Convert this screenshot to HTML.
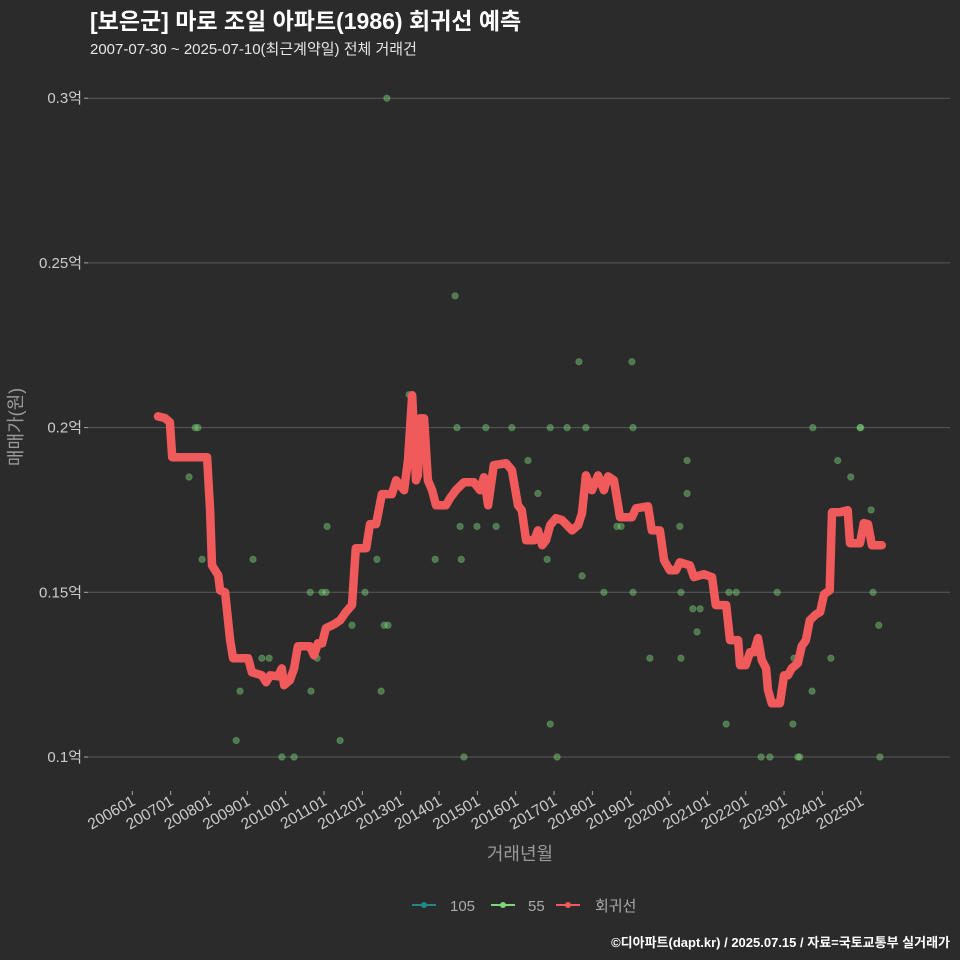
<!DOCTYPE html>
<html><head><meta charset="utf-8"><style>
html,body{margin:0;padding:0;background:#2b2b2c;}
svg{display:block;font-family:"Liberation Sans","Noto Sans CJK KR",sans-serif;}
</style></head><body>
<svg id="chart" width="960" height="960" xmlns="http://www.w3.org/2000/svg">
<rect width="960" height="960" fill="#2b2b2c"/>
<text x="90" y="29" fill="#ffffff" font-size="23" font-weight="bold">[보은군] 마로 조일 아파트(1986) 회귀선 예측</text>
<text x="90" y="54" fill="#e6e6e6" font-size="15">2007-07-30 ~ 2025-07-10(최근계약일) 전체 거래건</text>
<g id="grid"></g>
<g id="points"></g>
<g id="line"></g>
<g id="xaxis"></g>
<text x="520" y="860" fill="#9a9a9a" font-size="18" text-anchor="middle">거래년월</text>
<text transform="translate(22,427) rotate(-90)" fill="#9a9a9a" font-size="18" text-anchor="middle">매매가(원)</text>
<g>
 <g><line x1="412" y1="905" x2="436" y2="905" stroke="#1f8a84" stroke-width="2"/><circle cx="424" cy="905" r="3" fill="#1f8a84"/><text x="450" y="911" fill="#aaaaaa" font-size="15">105</text></g>
 <g><line x1="491" y1="905" x2="515" y2="905" stroke="#7ed67a" stroke-width="2"/><circle cx="503" cy="905" r="3" fill="#7ed67a"/><text x="528" y="911" fill="#aaaaaa" font-size="15">55</text></g>
 <g><line x1="556" y1="905" x2="580" y2="905" stroke="#f05a5b" stroke-width="2"/><circle cx="568" cy="905" r="3" fill="#f05a5b"/><text x="595" y="911" fill="#aaaaaa" font-size="15">회귀선</text></g>
</g>
<text x="950" y="947" fill="#ffffff" font-size="13" font-weight="bold" text-anchor="end">©디아파트(dapt.kr) / 2025.07.15 / 자료=국토교통부 실거래가</text>
</svg>
<script>
const yTicks=[0.1,0.15,0.2,0.25,0.3];
const yTickLabels=["0.1억","0.15억","0.2억","0.25억","0.3억"];
const xTickYears=[2006,2007,2008,2009,2010,2011,2012,2013,2014,2015,2016,2017,2018,2019,2020,2021,2022,2023,2024,2025];
const xTickLabels=["200601","200701","200801","200901","201001","201101","201201","201301","201401","201501","201601","201701","201801","201901","202001","202101","202201","202301","202401","202501"];
const lineT=[0.67,0.85,0.98,1.04,1.95,2.03,2.08,2.24,2.29,2.42,2.55,2.63,3.02,3.12,3.38,3.49,3.60,3.80,3.90,3.96,4.11,4.22,4.32,4.63,4.74,4.84,4.95,5.05,5.26,5.42,5.57,5.73,5.83,6.10,6.20,6.36,6.51,6.77,6.88,7.09,7.19,7.30,7.40,7.45,7.50,7.61,7.71,7.82,7.92,8.18,8.29,8.44,8.65,8.91,9.07,9.17,9.28,9.43,9.75,9.90,10.06,10.16,10.27,10.48,10.58,10.69,10.79,10.90,11.05,11.21,11.47,11.63,11.73,11.83,11.99,12.15,12.30,12.41,12.56,12.67,12.72,13.03,13.14,13.45,13.55,13.76,13.87,14.02,14.18,14.28,14.54,14.65,14.91,15.12,15.22,15.49,15.59,15.80,15.85,16.00,16.11,16.21,16.32,16.42,16.53,16.58,16.68,16.89,17.00,17.10,17.20,17.36,17.46,17.57,17.67,17.83,17.94,18.04,18.19,18.25,18.45,18.66,18.72,18.98,19.08,19.19,19.29,19.55];
const lineV=[0.2034,0.2029,0.2016,0.191,0.191,0.1749,0.1582,0.1552,0.1506,0.150,0.1355,0.130,0.130,0.1257,0.1248,0.1227,0.1248,0.1245,0.1269,0.1218,0.1233,0.1269,0.1336,0.1336,0.1309,0.1345,0.1345,0.1391,0.1403,0.1415,0.144,0.1461,0.1634,0.1634,0.1707,0.1707,0.1798,0.1798,0.184,0.181,0.1901,0.2098,0.184,0.1855,0.2028,0.2028,0.184,0.181,0.1764,0.1764,0.1786,0.181,0.1834,0.1834,0.181,0.1849,0.1764,0.1886,0.1892,0.1871,0.1764,0.1749,0.1658,0.1658,0.1688,0.1643,0.1658,0.1704,0.1725,0.1719,0.1688,0.1704,0.174,0.1855,0.181,0.1855,0.181,0.1852,0.184,0.1764,0.1728,0.1728,0.1755,0.1761,0.1688,0.1688,0.1597,0.1567,0.1567,0.1591,0.1582,0.1546,0.1555,0.1546,0.1461,0.1461,0.1355,0.1355,0.1279,0.1279,0.1318,0.1318,0.1361,0.1294,0.1269,0.1203,0.1163,0.1163,0.1248,0.1248,0.1269,0.1285,0.1336,0.1355,0.1415,0.1433,0.144,0.1494,0.1506,0.1743,0.1743,0.1749,0.1649,0.1649,0.171,0.1707,0.1643,0.1643];
const ptT=[1.48,1.64,1.71,1.82,2.71,2.81,3.15,3.38,3.57,3.90,4.22,4.64,4.66,4.82,4.95,5.05,5.08,5.42,5.73,6.07,6.38,6.49,6.57,6.67,6.64,7.22,7.90,8.42,8.47,8.55,8.58,8.65,8.99,9.22,9.49,9.90,10.32,10.58,10.82,10.90,10.90,11.08,11.34,11.65,11.73,11.83,12.30,12.64,12.75,13.03,13.06,13.06,13.50,14.28,14.31,14.31,14.47,14.47,14.62,14.73,14.81,15.49,15.56,15.75,16.40,16.63,16.82,17.23,17.26,17.36,17.41,17.73,17.75,18.22,18.40,18.74,18.98,19.00,19.27,19.32,19.47,19.50];
const ptV=[0.185,0.2,0.2,0.16,0.105,0.12,0.16,0.13,0.13,0.1,0.1,0.15,0.12,0.13,0.15,0.15,0.17,0.105,0.14,0.15,0.16,0.12,0.14,0.14,0.3,0.21,0.16,0.24,0.2,0.17,0.16,0.1,0.17,0.2,0.17,0.2,0.19,0.18,0.16,0.11,0.2,0.1,0.2,0.22,0.155,0.2,0.15,0.17,0.17,0.22,0.2,0.15,0.13,0.17,0.15,0.13,0.19,0.18,0.145,0.138,0.145,0.11,0.15,0.15,0.1,0.1,0.15,0.11,0.13,0.1,0.1,0.12,0.2,0.13,0.19,0.185,0.2,0.2,0.175,0.15,0.14,0.1];

const NS="http://www.w3.org/2000/svg";
function xs(t){return 132.3+38.34*(t-2006);}
function ys(v){return 757-(v-0.1)/0.05*164.7;}
function mk(tag,attrs,parent){const e=document.createElementNS(NS,tag);for(const k in attrs)e.setAttribute(k,attrs[k]);parent.appendChild(e);return e;}
const grid=document.getElementById('grid');
yTicks.forEach((v,i)=>{
  const g=mk('line',{x1:88,x2:950,y1:ys(v),y2:ys(v),stroke:'#5a5a5a','stroke-width':1},grid);
  
  
  const tk=mk('line',{x1:84,x2:88,y1:ys(v),y2:ys(v),stroke:'#aaa'},grid);
  
  
  const t=mk('text',{x:82,y:ys(v)+5,fill:'#cccccc','font-size':15,'text-anchor':'end'},grid);
  t.textContent=yTickLabels[i];
  
  
});
const xa=document.getElementById('xaxis');
xTickYears.forEach((y,i)=>{
  const x=xs(y);
  const tk=mk('line',{x1:x,x2:x,y1:791,y2:795,stroke:'#aaa'},xa);
  
  
  const t=mk('text',{transform:`translate(${x+4},${804}) rotate(-30)`,fill:'#cccccc','font-size':15.5,'text-anchor':'end'},xa);
  t.textContent=xTickLabels[i];
  
  
});
const pts=document.getElementById('points');
ptT.forEach((t,i)=>{
  const c=mk('circle',{cx:xs(2006+t),cy:ys(ptV[i]),r:3.2,fill:'#7ed67a','fill-opacity':0.45,stroke:'#7ed67a','stroke-opacity':0.3},pts);
  
  
});
const ln=document.getElementById('line');
let d='';
lineT.forEach((t,i)=>{d+=(i?'L':'M')+xs(2006+t).toFixed(1)+','+ys(lineV[i]).toFixed(1);});
const p=mk('path',{d:d,fill:'none',stroke:'#f05a5b','stroke-width':8.5,'stroke-linejoin':'round','stroke-linecap':'round'},ln);


</script>
</body></html>
